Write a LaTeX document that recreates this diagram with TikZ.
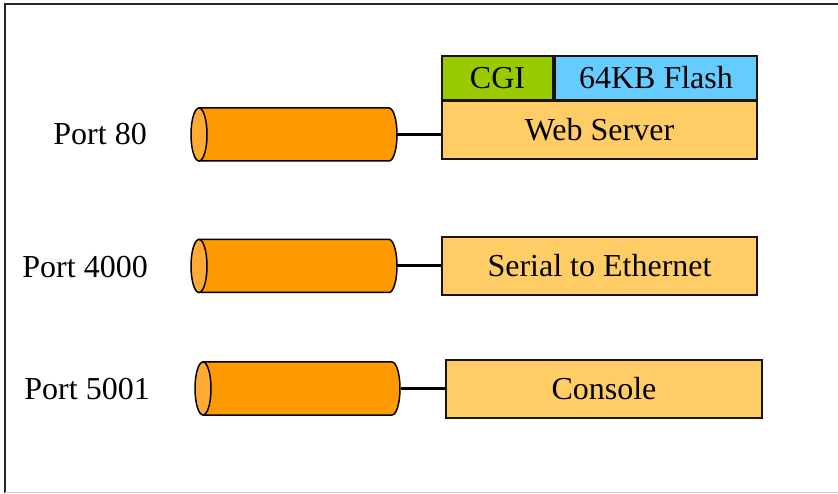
\documentclass[tikz,border=0pt]{standalone}
\usepackage{fontspec}
\setmainfont{Liberation Serif}
\definecolor{cylbody}{HTML}{FF9900}
\definecolor{cylend}{HTML}{FFAA33}
\definecolor{boxfill}{HTML}{FFCC66}
\definecolor{cgifill}{HTML}{99CC00}
\definecolor{flashfill}{HTML}{66CCFF}
\definecolor{boxline}{HTML}{1A1408}
\begin{document}
\begin{tikzpicture}[x=1pt,y=1pt,
  lbl/.style={font=\fontsize{32}{37}\selectfont, inner sep=0pt},
  svcbox/.style={draw=boxline, line width=2.2pt, fill=boxfill, font=\fontsize{32}{37}\selectfont, inner sep=0pt, minimum height=58pt},
  topbox/.style={draw=boxline, line width=2.2pt, font=\fontsize{32}{37}\selectfont, inner sep=0pt, minimum height=44pt, text depth=0pt, text height=22pt},
  cylnode/.style={inner sep=0pt, minimum width=206pt, minimum height=53pt},
  link/.style={line width=3pt, black}
]
\useasboundingbox (0,0) rectangle (838,493);
% frame
\draw[line width=2pt, black!85] (5,0) -- (5,489) -- (838,489);
\draw[line width=1.5pt, black!20] (5,0.75) -- (838,0.75);

% cylinder drawing macro: left-ellipse center x, right x, mid y
\newcommand\portcyl[3]{%
  \filldraw[fill=cylbody, draw=black, line width=1.5pt]
    (#1,#3+26.5) -- (#2,#3+26.5)
    arc[start angle=90, end angle=-90, x radius=8, y radius=26.5]
    -- (#1,#3-26.5) -- cycle;
  \filldraw[fill=cylend, draw=black, line width=1.5pt] (#1,#3) ellipse[x radius=8, y radius=26.5];
}

% cylinders
\portcyl{199}{389}{358.5}
\node[cylnode] (c1) at (294,358.5) {};
\portcyl{199}{389}{227}
\node[cylnode] (c2) at (294,227) {};
\portcyl{203}{392}{104.5}
\node[cylnode] (c3) at (297.5,104.5) {};

% labels
\node[lbl, anchor=east] (p1) at (147,359) {Port 80};
\node[lbl, anchor=east] (p2) at (148,226) {Port 4000};
\node[lbl, anchor=east] (p3) at (150,104) {Port 5001};

% boxes
\node[svcbox, minimum width=315pt] (web) at (599.5,363) {Web Server};
\node[topbox, fill=cgifill, minimum width=111pt] (cgi) at (497.5,415) {CGI};
\node[topbox, fill=flashfill, minimum width=202pt] (flash) at (656,415) {64KB Flash};
\node[svcbox, minimum width=315pt] (serial) at (599.5,227) {Serial to Ethernet};
\node[svcbox, minimum width=316pt] (console) at (604,104) {Console};

% connectors
\draw[link] (c1.east) -- (web.west |- c1.east);
\draw[link] (c2.east) -- (serial.west |- c2.east);
\draw[link] (c3.east) -- (console.west |- c3.east);
\end{tikzpicture}
\end{document}
